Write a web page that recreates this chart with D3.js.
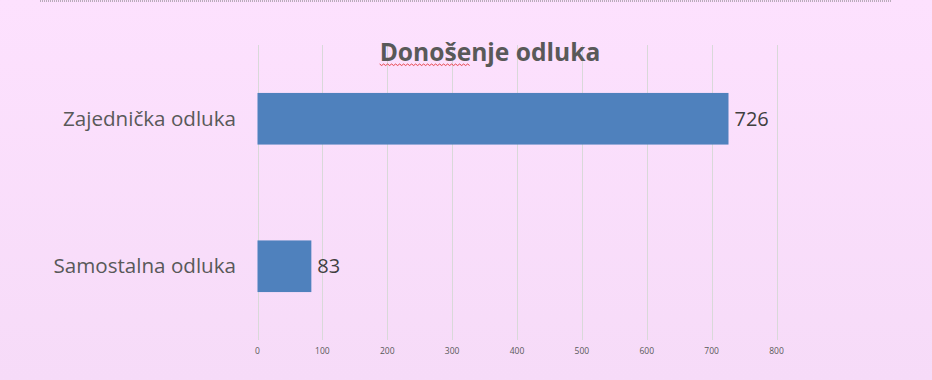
<!DOCTYPE html>
<html>
<head>
<meta charset="utf-8">
<script src="https://cdn.jsdelivr.net/npm/d3@7"></script>
<style>
  body { margin: 0; }
  svg { display: block; }
</style>
</head>
<body>
<div id="chart"></div>
<script>
const categories = ["Zajednička odluka", "Samostalna odluka"];
const values = [726, 83];
const ticks = [0, 100, 200, 300, 400, 500, 600, 700, 800];
const title = "Donošenje odluka";

const width = 932, height = 380;
const font = "'Open Sans', 'Noto Sans', sans-serif";

const svg = d3.select("#chart").append("svg")
    .attr("width", width)
    .attr("height", height);

const grad = svg.append("defs").append("linearGradient")
    .attr("id", "bg").attr("x1", 0).attr("y1", 0).attr("x2", 0).attr("y2", 1);
grad.append("stop").attr("offset", "0%").attr("stop-color", "#fde1fe");
grad.append("stop").attr("offset", "100%").attr("stop-color", "#f6dbf8");

svg.append("rect").attr("width", width).attr("height", height).attr("fill", "url(#bg)");

// dotted line at top
svg.append("line")
    .attr("x1", 40).attr("x2", 891).attr("y1", 1).attr("y2", 1)
    .attr("stroke", "#777").attr("stroke-width", 1).attr("stroke-dasharray", "1,1");

let x = d3.scaleLinear().domain([0, 800]).range([257.5, 776.5]);
let y = d3.scaleBand().domain(categories).range([45, 340]).paddingInner(0.65).paddingOuter(0.325);

// gridlines
svg.append("g")
    .selectAll("line")
    .data(ticks)
    .enter()
    .append("line")
    .attr("x1", d => Math.round(x(d)) + 0.5)
    .attr("x2", d => Math.round(x(d)) + 0.5)
    .attr("y1", 45)
    .attr("y2", 340)
    .attr("stroke", "#d9d9d9")
    .attr("stroke-width", 1);

// tick labels
svg.append("g")
    .selectAll("text")
    .data(ticks)
    .enter()
    .append("text")
    .attr("x", d => x(d))
    .attr("y", 354)
    .attr("text-anchor", "middle")
    .attr("font-family", font)
    .attr("font-size", "8.5px")
    .attr("fill", "#595959")
    .text(d => d);

// bars
svg.selectAll(".bar")
    .data(values)
    .enter()
    .append("rect")
    .attr("x", x(0))
    .attr("y", (d, i) => y(categories[i]))
    .attr("width", d => x(d) - x(0))
    .attr("height", y.bandwidth())
    .attr("fill", "#4f81bd");

// value labels
svg.selectAll(".val")
    .data(values)
    .enter()
    .append("text")
    .attr("x", d => x(d) + 6)
    .attr("y", (d, i) => y(categories[i]) + y.bandwidth() / 2)
    .attr("dy", "0.35em")
    .attr("font-family", font)
    .attr("font-size", "20px")
    .attr("fill", "#404040")
    .text(d => d);

// category labels
svg.selectAll(".cat")
    .data(categories)
    .enter()
    .append("text")
    .attr("x", 236)
    .attr("y", d => y(d) + y.bandwidth() / 2)
    .attr("dy", "0.35em")
    .attr("text-anchor", "end")
    .attr("font-family", font)
    .attr("font-size", "20.6px")
    .attr("fill", "#595959")
    .text(d => d);

// title
let t = svg.append("text")
    .attr("x", 490)
    .attr("y", 61)
    .attr("text-anchor", "middle")
    .attr("font-family", font)
    .attr("font-weight", "bold")
    .attr("font-size", "24.6px")
    .attr("fill", "#595959")
    .text(title);

// spell-check squiggle under first word
let first = t.node().getSubStringLength(0, 6);
let total = t.node().getComputedTextLength();
let sx = 490 - total / 2;
let pts = d3.range(0, Math.floor(first / 2) + 1).map(i => [sx + i * 2, 64 + (i % 2 ? 1.5 : 0)]);
svg.append("path")
    .attr("d", d3.line()(pts))
    .attr("fill", "none")
    .attr("stroke", "#e02020")
    .attr("stroke-width", 0.8);
</script>
</body>
</html>
